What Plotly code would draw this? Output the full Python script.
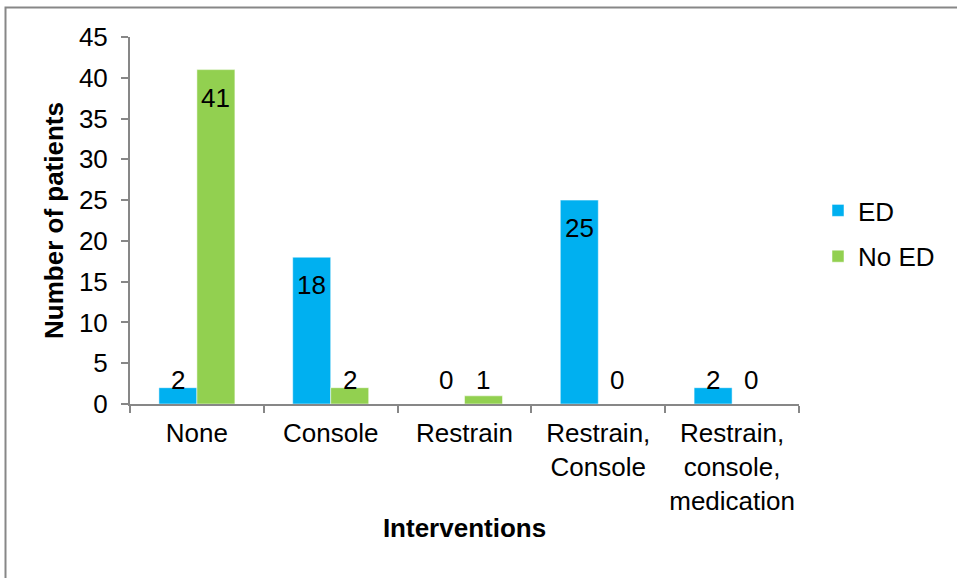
import plotly.graph_objects as go

categories = ["None", "Console", "Restrain", "Restrain,<br>Console", "Restrain,<br>console,<br>medication"]
ed_values = [2, 18, 0, 25, 2]
no_ed_values = [41, 2, 1, 0, 0]
series_names = ["ED", "No ED"]
series_colors = ["#00B0F0", "#92D050"]
y_ticks = [0, 5, 10, 15, 20, 25, 30, 35, 40, 45]

FONT = "Liberation Sans, Arial, sans-serif"
W, H = 957, 578
L, R, T, B = 130, 158, 37, 174
pw, ph = W - L - R, H - T - B

fig = go.Figure()
for name, vals, col in zip(series_names, [ed_values, no_ed_values], series_colors):
    fig.add_trace(go.Bar(
        x=categories, y=vals, name=name, legendgroup=name,
        marker=dict(color=col, line=dict(color="rgba(255,255,255,0.5)", width=1)),
    ))

# data labels (inside end, kept above axis for short bars)
annotations = []
bar_px = pw / len(categories) * (1 - 0.432) / 2
for i, vals in enumerate([ed_values, no_ed_values]):
    shift = (-0.5 + i) * bar_px
    for c, v in zip(categories, vals):
        annotations.append(dict(
            x=c, y=max(v, 6.4), text=str(v), showarrow=False,
            xshift=shift, yshift=-28, yanchor="middle", xanchor="center",
            font=dict(family=FONT, size=26, color="#000000"),
        ))

fig.update_layout(
    width=W, height=H,
    margin=dict(l=L, r=R, t=T, b=B, autoexpand=False),
    paper_bgcolor="white", plot_bgcolor="white",
    barmode="group", bargap=0.432, bargroupgap=0,
    font=dict(family=FONT, size=26, color="#000000"),
    showlegend=True,
    legend=dict(
        x=(818 - L) / pw, y=(404 - 187) / ph, xanchor="left", yanchor="top",
        traceorder="grouped", tracegroupgap=9,
        font=dict(family=FONT, size=26), itemwidth=30,
        bgcolor="rgba(0,0,0,0)",
    ),
    annotations=annotations,
    shapes=[dict(
        type="rect", xref="paper", yref="paper",
        x0=(5.5 - L) / pw, x1=(975 - L) / pw,
        y0=(404 - 600) / ph, y1=(404 - 7.5) / ph,
        line=dict(color="#878787", width=2), fillcolor="rgba(0,0,0,0)", layer="below",
    )],
)

fig.update_xaxes(
    type="category", showline=True, linecolor="#878787", linewidth=2,
    ticks="outside", tickson="boundaries", ticklen=7, tickwidth=2, tickcolor="#878787",
    showgrid=False, zeroline=False, tickangle=0, automargin=False,
    tickfont=dict(family=FONT, size=26), ticklabelstandoff=5,
    title=dict(text="<b>Interventions</b>", font=dict(family=FONT, size=26), standoff=4),
)
fig.update_yaxes(
    range=[0, 45], tickvals=y_ticks, showline=True, linecolor="#878787", linewidth=2,
    ticks="outside", ticklen=7, tickwidth=2, tickcolor="#878787",
    showgrid=False, zeroline=False, automargin=False,
    tickfont=dict(family=FONT, size=26), ticklabelstandoff=8,
    title=dict(text="<b>Number of patients</b>", font=dict(family=FONT, size=26), standoff=8),
)

fig.write_html("out.html")
